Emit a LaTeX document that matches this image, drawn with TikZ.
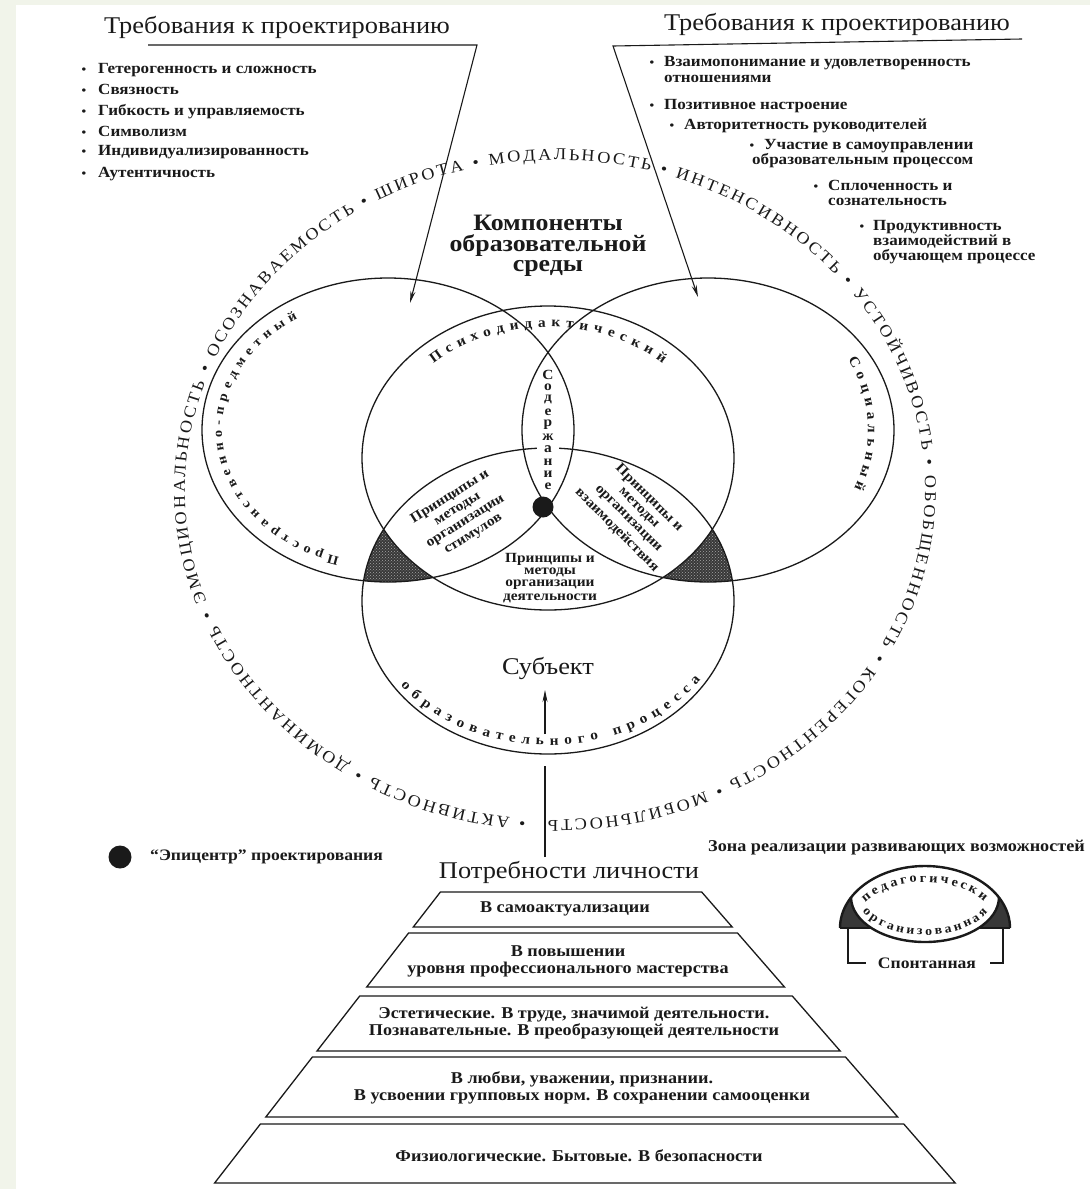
\documentclass[tikz,border=0pt]{standalone}
\usepackage{fontspec}
\setmainfont{Liberation Serif}[FakeStretch=1.1]
\usetikzlibrary{decorations.text,arrows.meta,patterns}
\definecolor{pagebg}{HTML}{F1F4EA}
\definecolor{ink}{HTML}{1A1A1A}
\newcommand{\fsz}[1]{\fontsize{#1}{#1}\selectfont}
\begin{document}
\begin{tikzpicture}[x=1pt,y=-1pt,
  ell/.style={draw=ink,line width=1.3pt},
  hdr/.style={font=\fsz{24}, text=ink, anchor=base, inner sep=0pt},
  item/.style={font=\bfseries\fsz{15.5}, text=ink, anchor=base west, inner sep=0pt},
  bul/.style={font=\bfseries\fsz{12}, text=ink, anchor=base, inner sep=0pt},
  lbl/.style={font=\bfseries\fsz{14}, text=ink, inner sep=0pt},
  pyr/.style={draw=ink, line width=1.3pt},
  ptxt/.style={font=\bfseries\fontsize{16.5}{17}\selectfont, text=ink, align=center, inner sep=0pt},
  arr/.style={draw=ink, line width=1.1pt, -{Stealth[length=12pt,width=5pt]}},
  plain/.style={draw=ink, line width=1.1pt},
  shade/.style={fill=black!78},
  dots/.style={pattern=crosshatch dots, pattern color=black!35},
  thick/.style={draw=ink, line width=2.4pt},
]
% page
\fill[pagebg] (0,0) rectangle (1090,1189);
\fill[white] (16,5) rectangle (1090,1189);
\useasboundingbox (0,0) rectangle (1090,1189);

% centres of the four ellipses
\coordinate (cL) at (388,430);
\coordinate (cR) at (708,430);
\coordinate (cI) at (548,458);
\coordinate (cB) at (548,601);

% shaded zones
\begin{scope}
  \clip (cB) ellipse [x radius=186, y radius=153];
  \clip (cL) ellipse [x radius=186, y radius=152];
  \fill[shade] (150,350) rectangle (950,800);
  \fill[dots] (150,350) rectangle (950,800);
  \fill[white] (cI) ellipse [x radius=186, y radius=152];
\end{scope}
\begin{scope}
  \clip (cB) ellipse [x radius=186, y radius=153];
  \clip (cR) ellipse [x radius=186, y radius=152];
  \fill[shade] (150,350) rectangle (950,800);
  \fill[dots] (150,350) rectangle (950,800);
  \fill[white] (cI) ellipse [x radius=186, y radius=152];
\end{scope}

% ellipses
\draw[ell] (cL) ellipse [x radius=186, y radius=152];
\draw[ell] (cR) ellipse [x radius=186, y radius=152];
\draw[ell] (cI) ellipse [x radius=186, y radius=152];
\draw[ell] (cB) ellipse [x radius=186, y radius=153];

% epicentre
\node[circle, fill=ink, minimum size=21pt, inner sep=0pt] (epi) at (543,507) {};

% headers and arrows
\node[hdr] (h1) at (277,33) {Требования к проектированию};
\node[hdr] (h2) at (837,30) {Требования к проектированию};
\coordinate (uL0) at (148,45);
\coordinate (uL1) at (477,45);
\coordinate (tipL) at (410,303);
\coordinate (uR0) at (1022,39);
\coordinate (uR1) at (613,46);
\coordinate (tipR) at (698,297);
\draw[arr] (uL0) -- (uL1) -- (tipL);
\draw[arr] (uR0) -- (uR1) -- (tipR);

% left list
\foreach \t/\y [count=\k] in {Гетерогенность и сложность/73, Связность/94, Гибкость и управляемость/115, Символизм/136, Индивидуализированность/155, Аутентичность/177}{
  \node[bul] (lb\k) at (84,\y) {•};
  \node[item] (li\k) at (98,\y) {\t};
}

% right list
\node[bul] (rb1) at (652,66) {•};
\node[item] (ri1) at (664,66) {Взаимопонимание и удовлетворенность};
\node[item] (ri1b) at (664,82) {отношениями};
\node[bul] (rb2) at (652,109) {•};
\node[item] (ri2) at (664,109) {Позитивное настроение};
\node[bul] (rb3) at (672,129) {•};
\node[item] (ri3) at (684,129) {Авторитетность руководителей};
\node[bul] (rb4) at (752,149) {•};
\node[item] (ri4) at (764,149) {Участие в самоуправлении};
\node[item] (ri4b) at (752,164) {образовательным процессом};
\node[bul] (rb5) at (816,190) {•};
\node[item] (ri5) at (828,190) {Сплоченность и};
\node[item] (ri5b) at (828,205) {сознательность};
\node[bul] (rb6) at (862,230) {•};
\node[item] (ri6) at (873,230) {Продуктивность};
\node[item] (ri6b) at (873,245) {взаимодействий в};
\node[item] (ri6c) at (873,260) {обучающем процессе};

% centre title
\node[font=\bfseries\fontsize{23.5}{20.5}\selectfont, text=ink, align=center, inner sep=0pt] (komp) at (548,246) {Компоненты\\образовательной\\среды};

% outer ring
\path[decorate, decoration={text along path, text align=fit to path, text color=ink,
  text={|\fsz{16.5}|• АКТИВНОСТЬ • ДОМИНАНТНОСТЬ • ЭМОЦИОНАЛЬНОСТЬ • ОСОЗНАВАЕМОСТЬ • ШИРОТА • МОДАЛЬНОСТЬ • ИНТЕНСИВНОСТЬ • УСТОЙЧИВОСТЬ • ОБОБЩЕННОСТЬ • КОГЕРЕНТНОСТЬ • МОБИЛЬНОСТЬ}}]
  ([shift={(555,490)}]94.5:370 and 330) arc[start angle=94.5, end angle=451, x radius=370, y radius=330];

% texts along the ellipses
\path[decorate, decoration={text along path, text align=fit to path, text color=ink,
  text={|\bfseries\fsz{14}|Психодидактический}}]
  ([shift={(548,458)}]226:165 and 131) arc[start angle=226, end angle=314, x radius=165, y radius=131];
\path[decorate, decoration={text along path, text align=fit to path, text color=ink,
  text={|\bfseries\fsz{13}|Пространственно-предметный}}]
  ([shift={(388,430)}]107:166 and 133) arc[start angle=107, end angle=237, x radius=166, y radius=133];
\path[decorate, decoration={text along path, text align=fit to path, text color=ink,
  text={|\bfseries\fsz{14}|Социальный}}]
  ([shift={(708,430)}]-29:160 and 145) arc[start angle=-29, end angle=24, x radius=160, y radius=145];
\path[decorate, decoration={text along path, text align=fit to path, text color=ink,
  text={|\bfseries\fsz{14}|образовательного процесса}}]
  ([shift={(548,601)}]144:182 and 144) arc[start angle=144, end angle=33, x radius=182, y radius=144];

% Содержание
\foreach \ch [count=\i from 0] in {С,о,д,е,р,ж,а,н,и,е}{
  \node[font=\bfseries\fsz{14}, text=ink, fill=white, inner xsep=1pt, inner ysep=0pt] (sod\i) at (548,375+12.4*\i) {\ch};
}
\node[font=\bfseries\fsz{14}, text=ink, fill=white, inner xsep=7pt, inner ysep=0pt] (soda) at (548,375+12.4*6) {а};

% principles (one node per line)
\node[lbl, rotate=32] (stim1) at (450.1,496.9) {Принципы и};
\node[lbl, rotate=32] (stim2) at (458.0,509.6) {методы};
\node[lbl, rotate=32] (stim3) at (466.0,522.4) {организации};
\node[lbl, rotate=32] (stim4) at (473.9,535.1) {стимулов};
\node[lbl, rotate=-45] (vzai1) at (648.9,498.1) {Принципы и};
\node[lbl, rotate=-45] (vzai2) at (638.3,508.7) {методы};
\node[lbl, rotate=-45] (vzai3) at (627.7,519.3) {организации};
\node[lbl, rotate=-45] (vzai4) at (617.1,529.9) {взаимодействия};
\node[lbl] (dey1) at (550,559) {Принципы и};
\node[lbl] (dey2) at (550,572) {методы};
\node[lbl] (dey3) at (550,585) {организации};
\node[lbl] (dey4) at (550,598) {деятельности};

% subject and arrow from needs
\node[font=\fsz{24}, text=ink, inner sep=0pt] (subj) at (548,668) {Субъект};
\coordinate (bA) at (545,857);
\coordinate (bB) at (545,766);
\coordinate (bC) at (545,734);
\coordinate (bD) at (545,690);
\draw[plain] (bA) -- (bB);
\draw[arr] (bC) -- (bD);

% legend
\node[circle, fill=ink, minimum size=23pt, inner sep=0pt] (legdot) at (120,857) {};
\node[font=\bfseries\fsz{16}, text=ink, anchor=west, inner sep=0pt] (legepi) at (150,857) {“Эпицентр” проектирования};
\node[font=\bfseries\fsz{16.5}, text=ink, anchor=base west, inner sep=0pt] (zona) at (708,851) {Зона реализации развивающих возможностей};

% dome symbol
\fill[shade] ([shift={(925,928)}]210:85 and 62) arc[start angle=210, end angle=180, x radius=85, y radius=62] -- (871,928) arc[start angle=136.8, end angle=180, x radius=74, y radius=45] -- cycle;
\fill[shade] ([shift={(925,928)}]330:85 and 62) arc[start angle=330, end angle=360, x radius=85, y radius=62] -- (979,928) arc[start angle=43.2, end angle=0, x radius=74, y radius=45] -- cycle;
\draw[thick] (840,928) arc[start angle=180, end angle=360, x radius=85, y radius=62];
\draw[thick] (851,897) arc[start angle=180, end angle=0, x radius=74, y radius=45];
\draw[plain] (840,928) -- (871,928);
\draw[plain] (979,928) -- (1010,928);
\draw[plain] (848,928) -- (848,963) -- (866,963);
\draw[plain] (990,963) -- (1003,963) -- (1003,928);
\node[font=\bfseries\fsz{16}, text=ink, inner sep=0pt] (spont) at (927,963) {Спонтанная};
\path[decorate, decoration={text along path, text align=fit to path, text color=ink,
  text={|\bfseries\fsz{13}|педагогически}}]
  ([shift={(925,928)}]214:72 and 46) arc[start angle=214, end angle=325, x radius=72, y radius=46];
\path[decorate, decoration={text along path, text align=fit to path, text color=ink,
  text={|\bfseries\fsz{12.5}|организованная}}]
  ([shift={(925,897)}]157:68 and 38) arc[start angle=157, end angle=23, x radius=68, y radius=38];

% pyramid
\node[font=\fsz{24}, text=ink, inner sep=0pt] (needs) at (569,872) {Потребности личности};
\draw[pyr] (440.4,892) -- (701.7,892) -- (732.2,927) -- (413.3,927) -- cycle;
\draw[pyr] (408.6,933) -- (737.5,933) -- (784.5,987) -- (366.7,987) -- cycle;
\draw[pyr] (359.7,996) -- (792.3,996) -- (840.2,1051) -- (317,1051) -- cycle;
\draw[pyr] (312.4,1057) -- (845.5,1057) -- (897.7,1117) -- (265.8,1117) -- cycle;
\draw[pyr] (260.4,1124) -- (903.8,1124) -- (955.2,1183) -- (214.6,1183) -- cycle;
\node[ptxt] (p1) at (565,909) {В самоактуализации};
\node[ptxt] (p2) at (568,961) {В повышении\\уровня профессионального мастерства};
\node[ptxt] (p3) at (574,1023) {Эстетические. В труде, значимой деятельности.\\Познавательные. В преобразующей деятельности};
\node[ptxt] (p4) at (582,1088) {В любви, уважении, признании.\\В усвоении групповых норм. В сохранении самооценки};
\node[ptxt] (p5) at (579,1156) {Физиологические. Бытовые. В безопасности};
\end{tikzpicture}
\end{document}
